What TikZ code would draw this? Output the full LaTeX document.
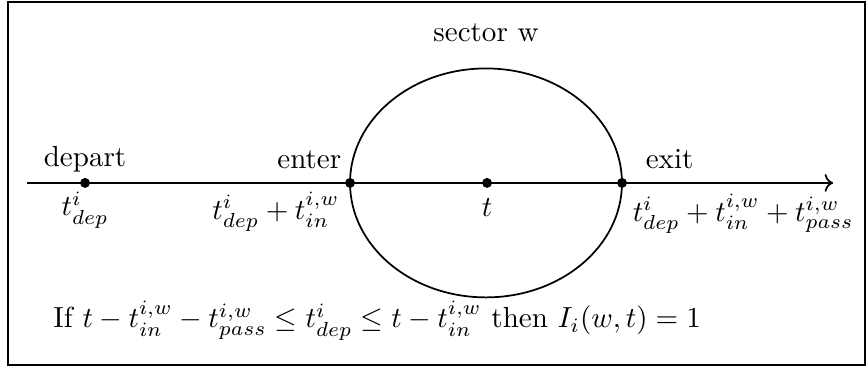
\documentclass[tikz,border=0pt]{standalone}
\usetikzlibrary{shapes.geometric, arrows.meta, positioning}

\begin{document}
\begin{tikzpicture}[
    dot/.style={circle, fill=black, inner sep=0pt, minimum size=0.12cm},
    toplbl/.style={inner sep=1.5pt, text depth=2pt},
    botlbl/.style={inner sep=1pt},
    sectorshape/.style={ellipse, draw=black, semithick, inner sep=0pt, minimum width=3.29cm, minimum height=2.77cm},
    frame/.style={draw=black, semithick},
    arrow/.style={->, semithick, draw=black}
]

\useasboundingbox (0,0) rectangle (10.49,4.513);
\draw[frame] (0.097,0.097) rectangle (10.467,4.489);

\node[sectorshape] (sector) at (5.88,2.30) {};
\node[above=0.19cm of sector] (sectorname) {sector w};

\coordinate (start) at (0.327,2.30);
\coordinate (end) at (10.08,2.30);
\draw[arrow] (start) -- (end);

\node[dot] (dep) at (1.029,2.30) {};
\node[dot] (enter) at (4.235,2.30) {};
\node[dot] (mid) at (5.893,2.30) {};
\node[dot] (exit) at (7.526,2.30) {};

\node[toplbl, above=0pt of dep] (deptxt) {depart};
\node[toplbl, above left=0pt and 0pt of enter] (entertxt) {enter};
\node[toplbl, above right=0pt and 0.18cm of exit] (exittxt) {exit};

\node[botlbl, below=0pt of dep] (deptime) {$t^i_{dep}$};
\node[botlbl, below left=0.02cm and 0.04cm of enter] (entertime) {$t^i_{dep}+t^{i,w}_{in}$};
\node[botlbl, below=0.08cm of mid] (midtime) {$t$};
\node[botlbl, below right=0.04cm and 0.04cm of exit] (exittime) {$t^i_{dep}+t^{i,w}_{in}+t^{i,w}_{pass}$};

\node[anchor=base west, inner sep=0pt] (cond) at (0.64,0.545) {If $t-t^{i,w}_{in}-t^{i,w}_{pass}\leq t^i_{dep}\leq t-t^{i,w}_{in}$ then $I_i(w,t)=1$};

\end{tikzpicture}
\end{document}
